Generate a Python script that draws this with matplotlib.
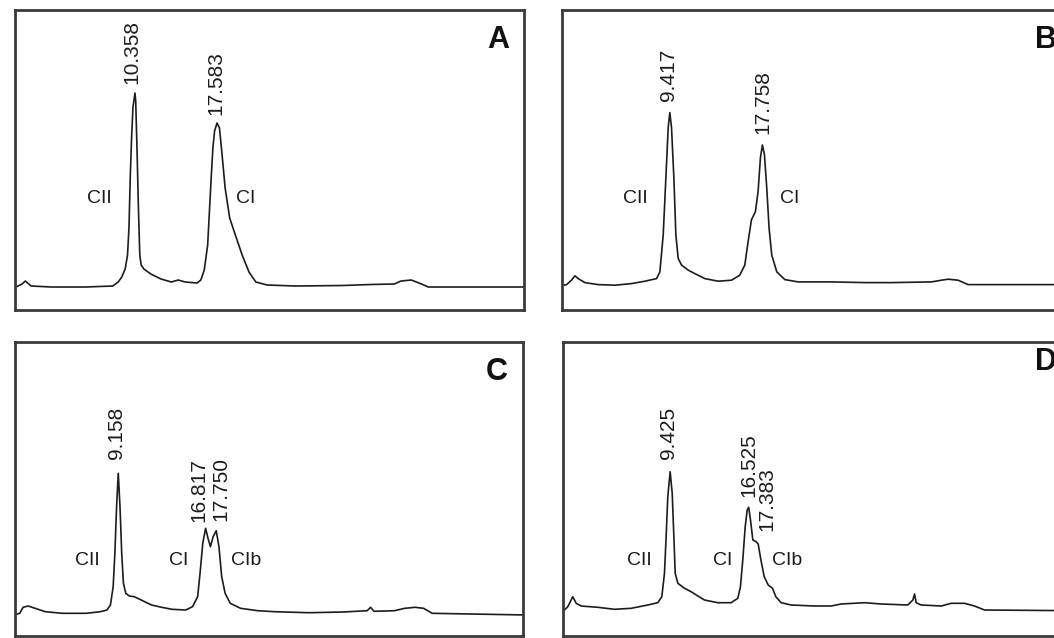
import matplotlib
matplotlib.use("Agg")
import matplotlib.pyplot as plt
import numpy as np

plt.rcParams['font.family'] = ['Liberation Sans', 'DejaVu Sans']

# HPLC traces: retention time (min) vs detector signal (arbitrary units)
time_a = [-0.3, 0.4, 0.7, 1.2, 3.0, 6.0, 8.4, 8.88, 9.19, 9.49, 9.70, 9.83, 9.94, 10.06, 10.18,
          10.358, 10.42, 10.54, 10.66, 10.78, 10.90, 11.14, 11.75, 12.65, 13.56, 14.17, 14.77, 15.83,
          16.16, 16.46, 16.76, 17.07, 17.22, 17.37, 17.583, 17.8, 18.0, 18.3, 18.7, 19.2, 19.8, 20.4,
          21.0, 22.0, 24.5, 28.7, 31.1, 33.2, 33.8, 34.7, 35.6, 36.2, 45.0]
signal_a = [-1, 3, 6, 1, 0, 0, 1, 5, 10, 18, 32, 60, 110, 150, 180,
            194, 186, 136, 79, 32, 22, 18, 13, 8, 5, 7, 5, 4,
            7, 17, 42, 109, 139, 156, 164, 159, 136, 99, 69, 52, 32, 15,
            5, 2, 1, 1.5, 2.5, 3, 6, 7, 3, 0, 0]

time_b = [-0.4, 0.11, 0.56, 0.86, 1.16, 1.76, 2.96, 4.46, 5.96, 7.17, 8.22, 8.52, 8.82, 9.06, 9.27,
          9.417, 9.57, 9.78, 9.96, 10.17, 10.47, 11.07, 11.67, 12.57, 13.77, 14.97, 15.72, 16.17,
          16.47, 16.77, 17.13, 17.37, 17.58, 17.758, 17.94, 18.15, 18.36, 18.60, 19.05, 19.78,
          20.98, 23.98, 26.98, 29.39, 32.99, 33.89, 34.49, 35.39, 36.29, 40.0, 46.0]
signal_b = [-1, 0, 4.4, 8.8, 6, 2, 0, -0.6, 1, 3.4, 6, 12.8, 49.7, 106.7, 157,
            172, 157, 106.7, 49.7, 26.2, 19.5, 14.5, 11, 6, 3.4, 4.4, 9.4, 19.5,
            43, 64.8, 73, 93.3, 127, 139.6, 130, 96.7, 56.4, 29.6, 12.8, 5,
            2.7, 2.7, 2, 2, 2.7, 4.4, 5.4, 4.4, 0, 0, 0]

time_c = [0.0, 0.51, 0.81, 1.26, 1.86, 2.76, 4.26, 6.37, 7.57, 8.17, 8.47, 8.71, 8.86, 9.01,
          9.158, 9.31, 9.46, 9.61, 9.82, 10.12, 10.57, 11.17, 12.07, 12.97, 13.87, 15.07, 15.67,
          16.12, 16.33, 16.57, 16.817, 17.03, 17.24, 17.48, 17.75, 17.99, 18.23, 18.53, 18.98,
          19.88, 21.38, 22.88, 25.88, 28.89, 30.99, 31.29, 31.59, 33.39, 34.29, 35.19, 35.94,
          36.69, 45.0]
signal_c = [0, 1.7, 7.7, 9, 6.7, 3.3, 1.7, 1.7, 3.3, 5, 10, 28.3, 61.7, 108.3,
            141.7, 108.3, 61.7, 31.7, 21.7, 19, 18.3, 15, 10, 7.7, 5.7, 5, 8.3,
            18.3, 41.7, 71.7, 86.7, 76.7, 68.3, 78.3, 84.3, 68.3, 38.3, 21.7, 11.7,
            6.7, 4.3, 3.3, 2.3, 3, 4.3, 7.7, 3.7, 4.3, 6.7, 7.7, 6.7,
            1.7, 0]

time_d = [-0.3, 0.17, 0.62, 0.93, 1.38, 2.88, 4.39, 5.90, 7.40, 8.31, 8.67, 8.91, 9.06, 9.21,
          9.425, 9.61, 9.76, 9.88, 10.12, 10.72, 11.32, 11.93, 12.53, 13.73, 14.94, 15.54, 15.78,
          15.99, 16.21, 16.39, 16.525, 16.69, 16.90, 17.19, 17.383, 17.63, 17.93, 18.29, 18.68,
          18.98, 19.46, 20.36, 22.47, 23.98, 24.89, 26.99, 28.50, 30.91, 31.37, 31.52, 31.67,
          32.12, 33.93, 34.83, 36.04, 36.94, 37.85, 46.0]
signal_d = [-1.7, 3.3, 13.3, 6.7, 4, 2.7, 0.7, 1.7, 5, 7.3, 13.3, 36.7, 73.3, 113.3,
            138.3, 116.7, 73.3, 36.7, 26.7, 21.7, 18.3, 14, 10, 7.3, 7.3, 11.7, 23.3,
            50, 83.3, 100, 102.7, 90, 70, 68.3, 66, 50, 33.3, 25, 21.7,
            13.3, 7.3, 5, 4, 4, 6, 7.3, 6, 5, 10, 16, 7.3,
            5, 4, 6.7, 6.7, 4, 0, -0.7]

# retention times printed above the peaks
rt_a = ['10.358', '17.583']
rt_b = ['9.417', '17.758']
rt_c = ['9.158', '16.817', '17.750']
rt_d = ['9.425', '16.525', '17.383']

# collagen peak names
names_ab = ['CII', 'CI']
names_cd = ['CII', 'CI', 'CIb']

panels = [
    dict(letter='A', t=time_a, s=signal_a, rt=rt_a, names=names_ab,
         rect=[0.01423, 0.5141, 0.4829, 0.4702], xlim=(-0.215, 44.63), ylim=(-23, 277),
         rt_off=[(-2.2, 6.5), (-0.7, 6.0)],
         name_pos=[(7.22, 89), (20.14, 89)], letter_pos=(0.9485, 0.90)),
    dict(letter='B', t=time_b, s=signal_b, rt=rt_b, names=names_ab,
         rect=[0.5332, 0.5141, 0.4829, 0.4702], xlim=(-0.3, 45.56), ylim=(-25.4, 274.6),
         rt_off=[(-1, 8.2), (0, 8.2)],
         name_pos=[(6.28, 86.6), (20.24, 86.6)], letter_pos=(0.951, 0.90)),
    dict(letter='C', t=time_c, s=signal_c, rt=rt_c, names=names_cd,
         rect=[0.01423, 0.00313, 0.482, 0.4608], xlim=(0.1, 44.66), ylim=(-21, 273),
         rt_off=[(-1.4, 10.4), (-4.7, 4.5), (3.6, 7.3)],
         name_pos=[(6.42, 55), (14.45, 55), (20.33, 55)], letter_pos=(0.949, 0.898)),
    dict(letter='D', t=time_d, s=signal_d, rt=rt_d, names=names_cd,
         rect=[0.5342, 0.00313, 0.4829, 0.4608], xlim=(-0.26, 45.76), ylim=(-26, 268),
         rt_off=[(-0.9, 9.2), (0, 7.7), (6.5, 9.2)],
         name_pos=[(6.60, 50), (14.14, 50), (20.02, 50)], letter_pos=(0.949, 0.932)),
]

ink = '#1c1c1c'
fig = plt.figure(figsize=(10.54, 6.38), dpi=100)

for p in panels:
    ax = fig.add_axes(p['rect'])
    ax.plot(p['t'], p['s'], color=ink, lw=1.2, solid_joinstyle='round')
    ax.set_xlim(*p['xlim'])
    ax.set_ylim(*p['ylim'])
    ax.set_xticks([])
    ax.set_yticks([])
    for sp in ax.spines.values():
        sp.set_color('#3a3a3a')
        sp.set_linewidth(2.0)

    for label, (dx, dy) in zip(p['rt'], p['rt_off']):
        rt = float(label)
        peak = np.interp(rt, p['t'], p['s'])
        ax.annotate(label, xy=(rt, peak), xytext=(dx, dy), textcoords='offset points',
                    rotation=90, ha='center', va='bottom', fontsize=15, color=ink)

    for name, (x, y) in zip(p['names'], p['name_pos']):
        ax.text(x, y, name, ha='center', va='center', fontsize=14, color=ink)

    ax.text(*p['letter_pos'], p['letter'], transform=ax.transAxes, ha='center', va='center',
            fontsize=22, fontweight='bold', color='#111111')

fig.savefig('out.png', dpi=100)
